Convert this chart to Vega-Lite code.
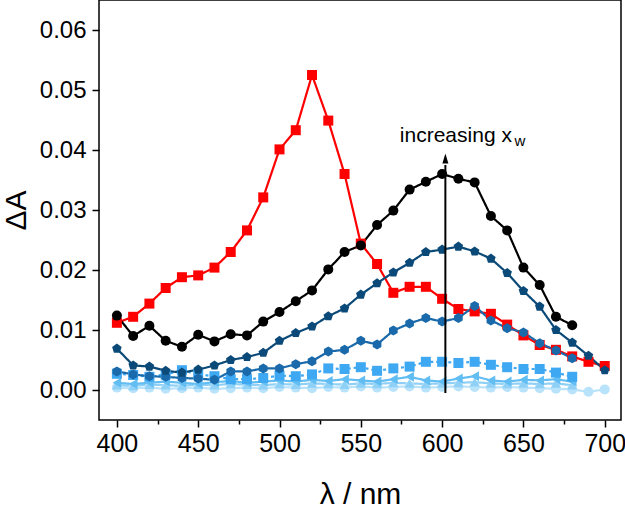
{
  "$schema": "https://vega.github.io/schema/vega-lite/v6.json",
  "width": 522,
  "height": 420,
  "autosize": {"type": "none"},
  "padding": {"left": 99, "top": 0, "right": 4, "bottom": 89},
  "background": "white",
  "config": {
    "view": {"stroke": "black", "strokeWidth": 1.5},
    "font": "Liberation Sans"
  },
  "datasets": {
    "spectra": [
      {"series":"A","wl":400,"dA":0.0112},{"series":"A","wl":410,"dA":0.0122},{"series":"A","wl":420,"dA":0.0144},{"series":"A","wl":430,"dA":0.0170},{"series":"A","wl":440,"dA":0.0188},{"series":"A","wl":450,"dA":0.0191},{"series":"A","wl":460,"dA":0.0204},{"series":"A","wl":470,"dA":0.0230},{"series":"A","wl":480,"dA":0.0266},{"series":"A","wl":490,"dA":0.0321},{"series":"A","wl":500,"dA":0.0401},{"series":"A","wl":510,"dA":0.0433},{"series":"A","wl":520,"dA":0.0525},{"series":"A","wl":530,"dA":0.0449},{"series":"A","wl":540,"dA":0.0360},{"series":"A","wl":550,"dA":0.0244},{"series":"A","wl":560,"dA":0.0210},{"series":"A","wl":570,"dA":0.0162},{"series":"A","wl":580,"dA":0.0172},{"series":"A","wl":590,"dA":0.0172},{"series":"A","wl":600,"dA":0.0152},{"series":"A","wl":610,"dA":0.0135},{"series":"A","wl":620,"dA":0.0131},{"series":"A","wl":630,"dA":0.0127},{"series":"A","wl":640,"dA":0.0109},{"series":"A","wl":650,"dA":0.0091},{"series":"A","wl":660,"dA":0.0075},{"series":"A","wl":670,"dA":0.0067},{"series":"A","wl":680,"dA":0.0056},{"series":"A","wl":690,"dA":0.0047},{"series":"A","wl":700,"dA":0.0040},
      {"series":"H","wl":400,"dA":0.0004},{"series":"H","wl":410,"dA":0.0003},{"series":"H","wl":420,"dA":0.0004},{"series":"H","wl":430,"dA":0.0002},{"series":"H","wl":440,"dA":0.0003},{"series":"H","wl":450,"dA":0.0004},{"series":"H","wl":460,"dA":0.0002},{"series":"H","wl":470,"dA":0.0003},{"series":"H","wl":480,"dA":0.0004},{"series":"H","wl":490,"dA":0.0003},{"series":"H","wl":500,"dA":0.0005},{"series":"H","wl":510,"dA":0.0004},{"series":"H","wl":520,"dA":0.0003},{"series":"H","wl":530,"dA":0.0005},{"series":"H","wl":540,"dA":0.0004},{"series":"H","wl":550,"dA":0.0006},{"series":"H","wl":560,"dA":0.0004},{"series":"H","wl":570,"dA":0.0005},{"series":"H","wl":580,"dA":0.0006},{"series":"H","wl":590,"dA":0.0004},{"series":"H","wl":600,"dA":0.0005},{"series":"H","wl":610,"dA":0.0006},{"series":"H","wl":620,"dA":0.0005},{"series":"H","wl":630,"dA":0.0004},{"series":"H","wl":640,"dA":0.0005},{"series":"H","wl":650,"dA":0.0004},{"series":"H","wl":660,"dA":0.0003},{"series":"H","wl":670,"dA":0.0002},{"series":"H","wl":680,"dA":0.0001},{"series":"H","wl":690,"dA":-0.0003},{"series":"H","wl":700,"dA":0.0001},
      {"series":"G","wl":400,"dA":0.0008},{"series":"G","wl":410,"dA":0.0007},{"series":"G","wl":420,"dA":0.0009},{"series":"G","wl":430,"dA":0.0008},{"series":"G","wl":440,"dA":0.0007},{"series":"G","wl":450,"dA":0.0009},{"series":"G","wl":460,"dA":0.0008},{"series":"G","wl":470,"dA":0.0010},{"series":"G","wl":480,"dA":0.0009},{"series":"G","wl":490,"dA":0.0008},{"series":"G","wl":500,"dA":0.0010},{"series":"G","wl":510,"dA":0.0009},{"series":"G","wl":520,"dA":0.0011},{"series":"G","wl":530,"dA":0.0010},{"series":"G","wl":540,"dA":0.0009},{"series":"G","wl":550,"dA":0.0011},{"series":"G","wl":560,"dA":0.0010},{"series":"G","wl":570,"dA":0.0012},{"series":"G","wl":580,"dA":0.0011},{"series":"G","wl":590,"dA":0.0010},{"series":"G","wl":600,"dA":0.0011},{"series":"G","wl":610,"dA":0.0012},{"series":"G","wl":620,"dA":0.0013},{"series":"G","wl":630,"dA":0.0011},{"series":"G","wl":640,"dA":0.0010},{"series":"G","wl":650,"dA":0.0011},{"series":"G","wl":660,"dA":0.0010},{"series":"G","wl":670,"dA":0.0011},{"series":"G","wl":680,"dA":0.0008},
      {"series":"F","wl":400,"dA":0.0012},{"series":"F","wl":410,"dA":0.0010},{"series":"F","wl":420,"dA":0.0012},{"series":"F","wl":430,"dA":0.0014},{"series":"F","wl":440,"dA":0.0012},{"series":"F","wl":450,"dA":0.0010},{"series":"F","wl":460,"dA":0.0013},{"series":"F","wl":470,"dA":0.0015},{"series":"F","wl":480,"dA":0.0012},{"series":"F","wl":490,"dA":0.0014},{"series":"F","wl":500,"dA":0.0016},{"series":"F","wl":510,"dA":0.0014},{"series":"F","wl":520,"dA":0.0017},{"series":"F","wl":530,"dA":0.0015},{"series":"F","wl":540,"dA":0.0018},{"series":"F","wl":550,"dA":0.0016},{"series":"F","wl":560,"dA":0.0014},{"series":"F","wl":570,"dA":0.0018},{"series":"F","wl":580,"dA":0.0022},{"series":"F","wl":590,"dA":0.0016},{"series":"F","wl":600,"dA":0.0014},{"series":"F","wl":610,"dA":0.0019},{"series":"F","wl":620,"dA":0.0023},{"series":"F","wl":630,"dA":0.0016},{"series":"F","wl":640,"dA":0.0014},{"series":"F","wl":650,"dA":0.0017},{"series":"F","wl":660,"dA":0.0016},{"series":"F","wl":670,"dA":0.0018},{"series":"F","wl":680,"dA":0.0014},
      {"series":"E","wl":400,"dA":0.0027},{"series":"E","wl":410,"dA":0.0025},{"series":"E","wl":420,"dA":0.0022},{"series":"E","wl":430,"dA":0.0026},{"series":"E","wl":440,"dA":0.0033},{"series":"E","wl":450,"dA":0.0026},{"series":"E","wl":460,"dA":0.0023},{"series":"E","wl":470,"dA":0.0018},{"series":"E","wl":480,"dA":0.0018},{"series":"E","wl":490,"dA":0.0020},{"series":"E","wl":500,"dA":0.0024},{"series":"E","wl":510,"dA":0.0023},{"series":"E","wl":520,"dA":0.0026},{"series":"E","wl":530,"dA":0.0036},{"series":"E","wl":540,"dA":0.0035},{"series":"E","wl":550,"dA":0.0038},{"series":"E","wl":560,"dA":0.0032},{"series":"E","wl":570,"dA":0.0036},{"series":"E","wl":580,"dA":0.0039},{"series":"E","wl":590,"dA":0.0047},{"series":"E","wl":600,"dA":0.0047},{"series":"E","wl":610,"dA":0.0045},{"series":"E","wl":620,"dA":0.0047},{"series":"E","wl":630,"dA":0.0042},{"series":"E","wl":640,"dA":0.0038},{"series":"E","wl":650,"dA":0.0035},{"series":"E","wl":660,"dA":0.0035},{"series":"E","wl":670,"dA":0.0029},{"series":"E","wl":680,"dA":0.0022},
      {"series":"D","wl":400,"dA":0.0031},{"series":"D","wl":410,"dA":0.0026},{"series":"D","wl":420,"dA":0.0023},{"series":"D","wl":430,"dA":0.0022},{"series":"D","wl":440,"dA":0.0020},{"series":"D","wl":450,"dA":0.0019},{"series":"D","wl":460,"dA":0.0017},{"series":"D","wl":470,"dA":0.0031},{"series":"D","wl":480,"dA":0.0031},{"series":"D","wl":490,"dA":0.0036},{"series":"D","wl":500,"dA":0.0036},{"series":"D","wl":510,"dA":0.0043},{"series":"D","wl":520,"dA":0.0048},{"series":"D","wl":530,"dA":0.0064},{"series":"D","wl":540,"dA":0.0067},{"series":"D","wl":550,"dA":0.0082},{"series":"D","wl":560,"dA":0.0076},{"series":"D","wl":570,"dA":0.0099},{"series":"D","wl":580,"dA":0.0111},{"series":"D","wl":590,"dA":0.0120},{"series":"D","wl":600,"dA":0.0114},{"series":"D","wl":610,"dA":0.0120},{"series":"D","wl":620,"dA":0.0140},{"series":"D","wl":630,"dA":0.0116},{"series":"D","wl":640,"dA":0.0103},{"series":"D","wl":650,"dA":0.0096},{"series":"D","wl":660,"dA":0.0078},{"series":"D","wl":670,"dA":0.0066},{"series":"D","wl":680,"dA":0.0053},
      {"series":"C","wl":400,"dA":0.0069},{"series":"C","wl":410,"dA":0.0041},{"series":"C","wl":420,"dA":0.0039},{"series":"C","wl":430,"dA":0.0032},{"series":"C","wl":440,"dA":0.0029},{"series":"C","wl":450,"dA":0.0034},{"series":"C","wl":460,"dA":0.0041},{"series":"C","wl":470,"dA":0.0050},{"series":"C","wl":480,"dA":0.0055},{"series":"C","wl":490,"dA":0.0062},{"series":"C","wl":500,"dA":0.0082},{"series":"C","wl":510,"dA":0.0095},{"series":"C","wl":520,"dA":0.0106},{"series":"C","wl":530,"dA":0.0123},{"series":"C","wl":540,"dA":0.0136},{"series":"C","wl":550,"dA":0.0159},{"series":"C","wl":560,"dA":0.0178},{"series":"C","wl":570,"dA":0.0196},{"series":"C","wl":580,"dA":0.0212},{"series":"C","wl":590,"dA":0.0230},{"series":"C","wl":600,"dA":0.0234},{"series":"C","wl":610,"dA":0.0239},{"series":"C","wl":620,"dA":0.0231},{"series":"C","wl":630,"dA":0.0219},{"series":"C","wl":640,"dA":0.0195},{"series":"C","wl":650,"dA":0.0165},{"series":"C","wl":660,"dA":0.0139},{"series":"C","wl":670,"dA":0.0100},{"series":"C","wl":680,"dA":0.0079},{"series":"C","wl":690,"dA":0.0057},{"series":"C","wl":700,"dA":0.0033},
      {"series":"B","wl":400,"dA":0.0124},{"series":"B","wl":410,"dA":0.0090},{"series":"B","wl":420,"dA":0.0107},{"series":"B","wl":430,"dA":0.0082},{"series":"B","wl":440,"dA":0.0072},{"series":"B","wl":450,"dA":0.0092},{"series":"B","wl":460,"dA":0.0081},{"series":"B","wl":470,"dA":0.0093},{"series":"B","wl":480,"dA":0.0091},{"series":"B","wl":490,"dA":0.0114},{"series":"B","wl":500,"dA":0.0130},{"series":"B","wl":510,"dA":0.0148},{"series":"B","wl":520,"dA":0.0166},{"series":"B","wl":530,"dA":0.0201},{"series":"B","wl":540,"dA":0.0230},{"series":"B","wl":550,"dA":0.0241},{"series":"B","wl":560,"dA":0.0275},{"series":"B","wl":570,"dA":0.0299},{"series":"B","wl":580,"dA":0.0334},{"series":"B","wl":590,"dA":0.0347},{"series":"B","wl":600,"dA":0.0360},{"series":"B","wl":610,"dA":0.0352},{"series":"B","wl":620,"dA":0.0346},{"series":"B","wl":630,"dA":0.0290},{"series":"B","wl":640,"dA":0.0266},{"series":"B","wl":650,"dA":0.0204},{"series":"B","wl":660,"dA":0.0175},{"series":"B","wl":670,"dA":0.0122},{"series":"B","wl":680,"dA":0.0108}
    ],
    "arrow": [{"wl": 602, "y0": -0.0005, "y1": 0.0375, "tip": 0.0386}],
    "label": [
      {"wl": 574, "dA": 0.0413, "text": "increasing x"},
      {"wl": 644.5, "dA": 0.0407, "text": "w"}
    ]
  },
  "layer": [
    {
      "data": {"name": "spectra"},
      "mark": {"type": "line", "strokeWidth": 2.2},
      "encoding": {
        "x": {
          "field": "wl", "type": "quantitative",
          "scale": {"domain": [389, 710], "nice": false, "zero": false},
          "axis": {
            "title": "λ / nm",
            "values": [400,425,450,475,500,525,550,575,600,625,650,675,700],
            "labelExpr": "datum.value % 50 === 0 ? datum.label : ''",
            "tickSize": {"condition": {"test": "datum.value % 50 === 0", "value": 7}, "value": 4},
            "grid": false, "domain": false,
            "tickColor": "black", "tickWidth": 1.5,
            "labelColor": "black", "labelFontSize": 25, "labelPadding": 4,
            "labelFont": "Liberation Sans", "labelFlush": false,
            "titleFont": "Liberation Sans", "titleFontSize": 30, "titleFontWeight": "normal",
            "titleColor": "black", "titlePadding": 23
          }
        },
        "y": {
          "field": "dA", "type": "quantitative",
          "scale": {"domain": [-0.005, 0.065], "nice": false, "zero": false},
          "axis": {
            "title": "ΔA",
            "values": [0,0.005,0.01,0.015,0.02,0.025,0.03,0.035,0.04,0.045,0.05,0.055,0.06],
            "format": ".2f",
            "labelExpr": "abs(datum.value*100 - round(datum.value*100)) < 0.001 ? datum.label : ''",
            "tickSize": {"condition": {"test": "abs(datum.value*100 - round(datum.value*100)) < 0.001", "value": 7}, "value": 4},
            "grid": false, "domain": false,
            "tickColor": "black", "tickWidth": 1.5,
            "labelColor": "black", "labelFontSize": 24, "labelPadding": 6,
            "labelFont": "Liberation Sans",
            "titleFont": "Liberation Sans", "titleFontSize": 30, "titleFontWeight": "normal",
            "titleColor": "black",
            "titleAngle": 270, "titleX": -83, "titleY": 210,
            "titleAlign": "center", "titleBaseline": "middle"
          }
        },
        "color": {
          "field": "series", "type": "nominal",
          "scale": {"domain": ["A","B","C","D","E","F","G","H"], "range": ["#ff0000","#000000","#0b4a78","#1a6aab","#3ea8f2","#62bdf2","#8fd0f6","#b9e3fa"]},
          "legend": null
        },
        "strokeDash": {
          "field": "series", "type": "nominal",
          "scale": {"domain": ["A","B","C","D","E","F","G","H"], "range": [[1,0],[1,0],[1,0],[1,0],[3,3],[1,0],[1,0],[1,0]]},
          "legend": null
        }
      }
    },
    {
      "data": {"name": "spectra"},
      "mark": {"type": "point", "filled": true, "opacity": 1, "size": 100},
      "encoding": {
        "x": {"field": "wl", "type": "quantitative"},
        "y": {"field": "dA", "type": "quantitative"},
        "color": {"field": "series", "type": "nominal", "legend": null},
        "shape": {
          "field": "series", "type": "nominal",
          "scale": {"domain": ["A","B","C","D","E","F","G","H"], "range": ["square","circle","M0,-1L0.951,-0.309L0.588,0.809L-0.588,0.809L-0.951,-0.309Z","M0,-1L0.866,-0.5L0.866,0.5L0,1L-0.866,0.5L-0.866,-0.5Z","square","triangle-left","triangle-up","circle"]},
          "legend": null
        }
      }
    },
    {
      "data": {"name": "arrow"},
      "mark": {"type": "rule", "color": "black", "strokeWidth": 2},
      "encoding": {
        "x": {"field": "wl", "type": "quantitative"},
        "y": {"field": "y0", "type": "quantitative"},
        "y2": {"field": "y1"}
      }
    },
    {
      "data": {"name": "arrow"},
      "mark": {"type": "point", "shape": "M0,-1L0.6,1L-0.6,1Z", "filled": true, "color": "black", "size": 100, "opacity": 1},
      "encoding": {
        "x": {"field": "wl", "type": "quantitative"},
        "y": {"field": "tip", "type": "quantitative"}
      }
    },
    {
      "data": {"name": "label"},
      "transform": [{"filter": "datum.text !== 'w'"}],
      "mark": {"type": "text", "align": "left", "baseline": "alphabetic", "font": "Liberation Sans", "fontSize": 21, "color": "black"},
      "encoding": {
        "x": {"field": "wl", "type": "quantitative"},
        "y": {"field": "dA", "type": "quantitative"},
        "text": {"field": "text"}
      }
    },
    {
      "data": {"name": "label"},
      "transform": [{"filter": "datum.text === 'w'"}],
      "mark": {"type": "text", "align": "left", "baseline": "alphabetic", "font": "Liberation Sans", "fontSize": 15, "color": "black"},
      "encoding": {
        "x": {"field": "wl", "type": "quantitative"},
        "y": {"field": "dA", "type": "quantitative"},
        "text": {"field": "text"}
      }
    }
  ]
}
